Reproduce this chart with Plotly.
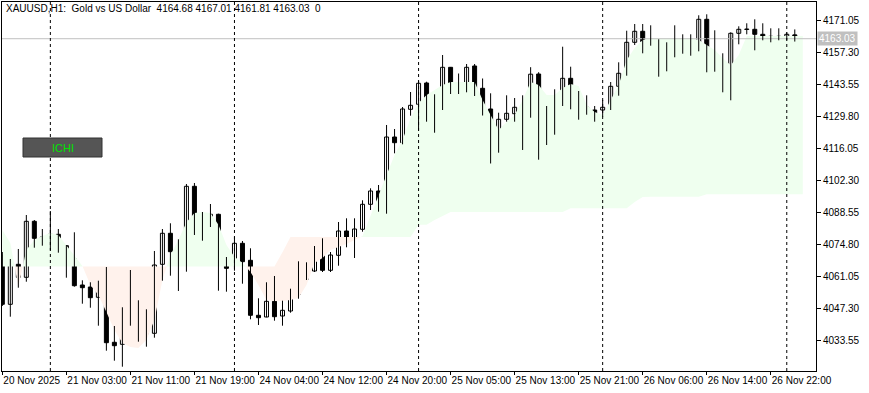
import plotly.graph_objects as go
import numpy as np

# ---------------- data ----------------
opens = [4070.28, 4049.14, 4066.29, 4060.72, 4084.73, 4078.00, 4076.59, 4079.16, 4074.27, 4068.57,
         4057.42, 4056.56, 4052.14, 4058.70, 4032.85, 4031.99, 4040.82, 4050.86, 4037.39, 4036.71,
         4066.29, 4079.59, 4071.87, 4069.73, 4099.74, 4085.59, 4082.85, 4087.73, 4067.71, 4068.01,
         4075.30, 4068.01, 4044.43, 4043.70, 4050.43, 4044.13, 4046.27, 4053.43, 4059.86, 4063.42,
         4071.87, 4063.72, 4070.15, 4080.57, 4077.70, 4081.30, 4092.02, 4097.73, 4092.88, 4120.88,
         4118.44, 4132.76, 4134.90, 4144.04, 4129.76, 4135.03, 4150.77, 4143.18, 4140.73, 4151.33,
         4141.76, 4132.89, 4115.95, 4128.47, 4130.87, 4133.62, 4129.58, 4147.89, 4125.47, 4122.72,
         4136.19, 4146.05, 4134.60, 4133.62, 4132.46, 4132.46, 4133.32, 4142.62, 4148.20, 4161.49,
         4166.21, 4162.35, 4162.35, 4149.91, 4157.63, 4161.06, 4162.77, 4160.20, 4171.35, 4155.06,
         4153.34, 4142.19, 4165.35, 4166.98, 4167.06, 4164.92, 4163.20, 4164.06, 4164.06, 4164.68]
highs = [4071.57, 4068.57, 4072.86, 4087.43, 4085.29, 4081.43, 4089.15, 4081.43, 4074.57, 4080.02,
         4059.43, 4058.58, 4059.26, 4065.14, 4039.84, 4047.86, 4063.85, 4050.86, 4047.00, 4072.00,
         4081.43, 4083.88, 4077.01, 4100.73, 4101.16, 4088.72, 4092.15, 4087.99, 4069.42, 4078.13,
         4076.29, 4073.16, 4051.72, 4058.58, 4061.28, 4050.69, 4055.83, 4067.58, 4067.15, 4074.14,
         4077.44, 4071.57, 4084.43, 4086.02, 4086.02, 4093.74, 4098.88, 4100.30, 4126.03, 4124.31,
         4133.74, 4140.18, 4145.02, 4144.59, 4139.19, 4156.04, 4150.90, 4148.11, 4152.18, 4152.18,
         4145.97, 4139.62, 4131.30, 4138.76, 4137.60, 4138.76, 4150.81, 4148.67, 4134.17, 4141.33,
         4159.60, 4151.03, 4140.61, 4138.76, 4134.17, 4136.75, 4144.46, 4152.91, 4166.46, 4169.33,
         4169.33, 4168.78, 4162.77, 4161.49, 4168.78, 4164.92, 4164.92, 4173.07, 4173.49, 4166.63,
         4156.77, 4165.78, 4168.35, 4169.64, 4171.35, 4169.64, 4167.49, 4167.49, 4165.78, 4167.01]
lows = [4048.41, 4043.83, 4056.26, 4058.83, 4073.41, 4074.27, 4072.30, 4071.27, 4060.55, 4056.69,
        4049.40, 4047.68, 4039.97, 4029.25, 4024.96, 4022.39, 4039.97, 4033.11, 4030.96, 4034.82,
        4059.26, 4061.41, 4054.85, 4063.12, 4078.86, 4076.41, 4082.29, 4054.97, 4054.55, 4063.55,
        4057.98, 4042.71, 4040.27, 4043.57, 4042.11, 4039.97, 4045.54, 4051.54, 4059.56, 4062.99,
        4062.99, 4062.99, 4065.69, 4073.58, 4069.00, 4080.27, 4089.58, 4088.85, 4087.99, 4113.89,
        4117.75, 4130.01, 4123.58, 4127.44, 4122.72, 4132.46, 4139.32, 4139.32, 4140.05, 4138.46,
        4130.10, 4109.52, 4114.15, 4127.44, 4127.44, 4115.31, 4129.16, 4111.15, 4117.45, 4121.87,
        4134.17, 4132.76, 4128.30, 4130.44, 4127.44, 4129.58, 4132.46, 4138.59, 4147.17, 4160.33,
        4156.77, 4160.03, 4146.74, 4149.05, 4155.06, 4156.60, 4155.74, 4157.63, 4148.62, 4148.88,
        4140.05, 4136.62, 4160.63, 4164.92, 4158.06, 4162.35, 4161.49, 4162.35, 4162.35, 4161.81]
closes = [4049.14, 4066.29, 4060.72, 4084.73, 4077.44, 4076.59, 4079.16, 4074.01, 4068.27, 4057.12,
          4056.26, 4051.97, 4058.70, 4032.68, 4031.39, 4041.00, 4050.86, 4036.96, 4036.54, 4065.99,
          4079.59, 4071.70, 4069.55, 4099.74, 4085.42, 4082.72, 4087.73, 4067.41, 4064.58, 4075.30,
          4067.41, 4044.43, 4043.40, 4050.43, 4043.83, 4046.57, 4053.43, 4059.86, 4063.72, 4071.87,
          4063.72, 4070.28, 4080.57, 4077.70, 4081.43, 4092.02, 4097.73, 4092.88, 4120.88, 4118.44,
          4132.89, 4134.47, 4143.91, 4129.16, 4134.90, 4150.77, 4142.88, 4140.73, 4150.77, 4141.59,
          4132.16, 4115.95, 4128.47, 4131.04, 4133.62, 4129.58, 4147.81, 4125.30, 4122.72, 4136.19,
          4146.05, 4134.47, 4133.44, 4132.16, 4130.01, 4133.62, 4142.62, 4148.20, 4161.49, 4166.21,
          4161.75, 4161.75, 4149.74, 4157.63, 4161.06, 4162.77, 4160.20, 4171.35, 4155.06, 4153.34,
          4142.62, 4165.35, 4167.06, 4167.19, 4164.92, 4163.20, 4164.06, 4163.63, 4164.92, 4163.03]

# Ichimoku cloud (Senkou Span A / B, already shifted), one value per bar slot
span_a = [4081.0, 4075.4, 4056.6, 4072.4, 4076.7, 4078.4, 4079.7, 4078.9, 4074.6, 4070.3,
          4065.6, 4057.4, 4053.1, 4045.8, 4038.1, 4032.5, 4030.8, 4030.4, 4033.8, 4042.4,
          4059.6, 4070.3, 4076.7, 4084.3, 4088.3, 4088.7, 4088.3, 4083.2, 4074.6, 4069.5,
          4066.9, 4063.0, 4057.4, 4051.0, 4050.6, 4050.6, 4051.0, 4051.8, 4057.4, 4066.9,
          4069.0, 4072.4, 4073.7, 4075.0, 4076.7, 4078.4, 4087.4, 4096.0, 4104.6, 4113.2,
          4119.6, 4129.0, 4135.5, 4138.9, 4141.0, 4143.2, 4144.5, 4144.5, 4144.5, 4144.5,
          4136.7, 4130.3, 4123.9, 4127.3, 4130.3, 4136.7, 4144.5, 4143.2, 4138.9, 4138.9,
          4141.9, 4143.6, 4142.8, 4134.6, 4131.6, 4130.3, 4136.7, 4143.2, 4153.9, 4159.0,
          4162.5, 4163.3, 4163.3, 4163.3, 4163.3, 4163.3, 4163.3, 4162.5, 4160.3, 4158.2,
          4154.8, 4151.7, 4156.0, 4164.2, 4164.2, 4164.2, 4164.2, 4164.2, 4164.2, 4164.2,
          4164.2]
span_b = [4065.3] * 35 + [4071.5] + [4078.0] * 16 + [4083.2, 4083.2, 4085.3, 4087.0] + \
         [4088.7] * 15 + [4090.3] * 8 + [4093.0, 4095.2] + [4095.3] * 7 + [4096.3] * 13

x_tick_labels = ["20 Nov 2025", "21 Nov 03:00", "21 Nov 11:00", "21 Nov 19:00", "24 Nov 04:00",
                 "24 Nov 12:00", "24 Nov 20:00", "25 Nov 05:00", "25 Nov 13:00", "25 Nov 21:00",
                 "26 Nov 06:00", "26 Nov 14:00", "26 Nov 22:00"]
x_tick_bars = [0, 8, 16, 24, 32, 40, 48, 56, 64, 72, 80, 88, 96]
day_separator_bars = [6, 29, 52, 75, 98]
price_ticks = [4033.55, 4047.30, 4061.05, 4074.80, 4088.55, 4102.30, 4116.05,
               4129.80, 4143.55, 4157.30, 4171.05]
title_text = "XAUUSD,H1:\u00a0 Gold vs US Dollar\u00a0 4164.68 4167.01 4161.81 4163.03\u00a0 0"

# ---------------- figure ----------------
W, H = 869, 393
ML, MR, MT, MB = 2, 53, 2, 22
FONT = "Liberation Sans, Arial, sans-serif"
x_range = [-0.04, 101.65]
y_range = [4020.54, 4178.77]
BODY_W = 0.5

bars = list(range(len(opens)))
fig = go.Figure()

# cloud: insert crossing points so colour switches cleanly
A = np.array(span_a, float)
B = np.array(span_b, float)
xs = np.arange(len(A), dtype=float)
px, pa, pb = [], [], []
for k in range(len(A)):
    px.append(xs[k]); pa.append(A[k]); pb.append(B[k])
    if k < len(A) - 1:
        d0 = A[k] - B[k]
        d1 = A[k + 1] - B[k + 1]
        if d0 * d1 < 0:
            t = d0 / (d0 - d1)
            v = A[k] + t * (A[k + 1] - A[k])
            px.append(xs[k] + t); pa.append(v); pb.append(v)
pa = np.array(pa); pb = np.array(pb)
green_top = np.maximum(pa, pb)
pink_bot = np.minimum(pa, pb)

for top, col in [(green_top, "#EFFFEF"), (pink_bot, "#FFF2EC")]:
    fig.add_trace(go.Scatter(x=px, y=pb, mode="lines", line=dict(width=0, color=col),
                             hoverinfo="skip", showlegend=False))
    fig.add_trace(go.Scatter(x=px, y=top, mode="lines", line=dict(width=0, color=col),
                             fill="tonexty", fillcolor=col, hoverinfo="skip", showlegend=False))

# current price line
fig.add_trace(go.Scatter(x=x_range, y=[closes[-1]] * 2, mode="lines",
                         line=dict(color="#C0C0C0", width=1), hoverinfo="skip", showlegend=False))

# candles: wicks then bodies
o = np.array(opens); h = np.array(highs); l = np.array(lows); c = np.array(closes)
wx, wy = [], []
for i in bars:
    wx += [i, i, None]
    wy += [l[i], h[i], None]
fig.add_trace(go.Scatter(x=wx, y=wy, mode="lines", line=dict(color="black", width=1),
                         hoverinfo="skip", showlegend=False))
body_lo = np.minimum(o, c)
body_h = np.maximum(np.abs(c - o), 0.12)
up = c >= o
for mask, fill in [(up, "white"), (~up, "black")]:
    idx = np.where(mask)[0]
    fig.add_trace(go.Bar(x=idx, base=body_lo[idx], y=body_h[idx], width=BODY_W,
                         marker=dict(color=fill, line=dict(color="black", width=1)),
                         hoverinfo="skip", showlegend=False))

shapes = []
for b in day_separator_bars:
    shapes.append(dict(type="line", xref="x", yref="paper", x0=b, x1=b, y0=0, y1=1,
                       line=dict(color="black", width=1, dash="3px,3px"), layer="above"))
plot_w = W - ML - MR
plot_h = H - MT - MB
def px2paper_x(p):
    return (p - ML) / plot_w
def px2paper_y(p):
    return (H - MB - p) / plot_h
shapes.append(dict(type="rect", xref="paper", yref="paper",
                   x0=px2paper_x(23), x1=px2paper_x(102), y0=px2paper_y(157), y1=px2paper_y(138),
                   fillcolor="#555555", line=dict(color="#333333", width=1), layer="above"))

annotations = [
    dict(text=title_text, xref="paper", yref="paper", x=px2paper_x(4), y=px2paper_y(9),
         xanchor="left", yanchor="middle", showarrow=False,
         font=dict(family=FONT, size=10, color="black")),
    dict(text="ICHI", xref="paper", yref="paper", x=px2paper_x(62.5), y=px2paper_y(147.5),
         xanchor="center", yanchor="middle", showarrow=False,
         font=dict(family=FONT, size=11, color="#00E400")),
    dict(text="4163.03", xref="paper", yref="y", x=1.0, y=closes[-1],
         xanchor="left", yanchor="middle", showarrow=False, xshift=1,
         bgcolor="#C0C0C0", borderpad=1,
         font=dict(family=FONT, size=10, color="white")),
]

fig.update_layout(
    width=W, height=H, margin=dict(l=ML, r=MR, t=MT, b=MB),
    paper_bgcolor="white", plot_bgcolor="white", barmode="overlay",
    shapes=shapes, annotations=annotations, showlegend=False,
    font=dict(family=FONT, size=10, color="black"),
    xaxis=dict(range=x_range, showgrid=False, zeroline=False, showline=True, linecolor="black",
               linewidth=1, mirror=True, ticks="outside", ticklen=3, tickcolor="black",
               tickvals=x_tick_bars, ticktext=x_tick_labels, ticklabelposition="outside right",
               tickangle=0, automargin=False,
               tickfont=dict(family=FONT, size=10, color="black"), fixedrange=True),
    yaxis=dict(range=y_range, side="right", showgrid=False, zeroline=False, showline=True,
               linecolor="black", linewidth=1, mirror=True, ticks="outside", ticklen=4,
               tickcolor="black", tickvals=price_ticks, ticktext=[f"{v:.2f}" for v in price_ticks],
               automargin=False,
               tickfont=dict(family=FONT, size=10, color="black"), fixedrange=True),
)

fig.write_html("out.html")
